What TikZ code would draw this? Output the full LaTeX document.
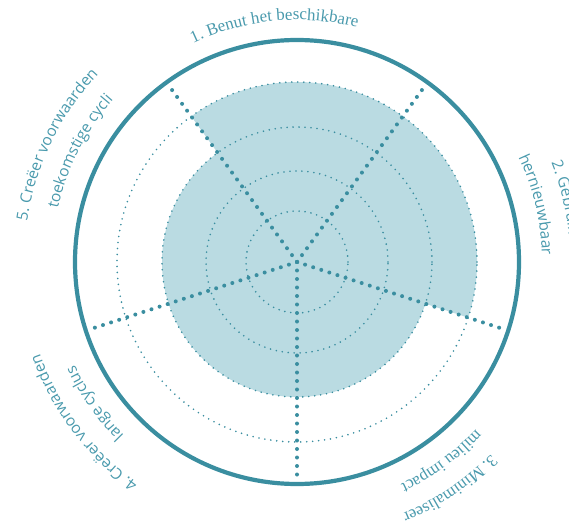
\documentclass[tikz,border=0pt]{standalone}
\usepackage{fontspec}
\newfontfamily\labsans{Open Sans}
\newfontfamily\labserif{Liberation Serif}
\usetikzlibrary{decorations.text}
\definecolor{ringcol}{RGB}{58,142,160}
\definecolor{shadecol}{RGB}{186,219,226}
\definecolor{labcol}{RGB}{74,154,173}
\begin{document}
\begin{tikzpicture}[x=1pt,y=1pt,
  spoke/.style={draw=ringcol, line width=4pt, line cap=round, dash pattern=on 0pt off 8.5pt},
  ringdots/.style={draw=ringcol, line width=1.8pt, line cap=round, dash pattern=on 0pt off 6pt},
  outerring/.style={draw=ringcol, line width=4.2pt},
  arclab/.style={decorate, decoration={text along path, text align=center, text color=labcol, text={#1}}},
]
\useasboundingbox (-297,-262) rectangle (272,262);
\clip (-297,-262) rectangle (272,262);
% shaded values
\fill[shadecol] (0,0) circle[radius=135];
\fill[shadecol] (0,0) -- (-18:180) arc[start angle=-18, end angle=126, radius=180] -- cycle;
% dotted rings
\foreach \r in {51,91,135,180} \draw[ringdots] (0,0) circle[radius=\r];
% spokes
\foreach \a in {126,54,-18,-90,198} \draw[spoke] (0,0) -- (\a:215);
% outer ring
\draw[outerring] (0,0) circle[radius=222];
% labels
\path[arclab={|\labserif\fontsize{17}{20}\selectfont|1. Benut het beschikbare}]
  (155.5:242) arc[start angle=155.5, end angle=35.5, radius=242];
\path[arclab={|\labsans\fontsize{15.5}{18}\selectfont|2. Gebruik}]
  (73.5:273) arc[start angle=73.5, end angle=-46.5, radius=273];
\path[arclab={|\labsans\fontsize{15.5}{18}\selectfont|hernieuwbaar}]
  (73.5:245) arc[start angle=73.5, end angle=-46.5, radius=245];
\path[arclab={|\labserif\fontsize{17}{20}\selectfont|3. Minimaliseer}]
  (4:273) arc[start angle=4, end angle=-116, radius=273];
\path[arclab={|\labserif\fontsize{17}{20}\selectfont|milieu impact}]
  (6:245) arc[start angle=6, end angle=-114, radius=245];
\path[arclab={|\labsans\fontsize{15.5}{18}\selectfont|4. Creëer voorwaarden}]
  (-83:273) arc[start angle=-83, end angle=-203, radius=273];
\path[arclab={|\labsans\fontsize{15.5}{18}\selectfont|lange cyclus}]
  (-85:245) arc[start angle=-85, end angle=-205, radius=245];
\path[arclab={|\labsans\fontsize{15.5}{18}\selectfont|5. Creëer voorwaarden}]
  (214:273) arc[start angle=214, end angle=94, radius=273];
\path[arclab={|\labsans\fontsize{15.5}{18}\selectfont|toekomstige cycli}]
  (213:245) arc[start angle=213, end angle=93, radius=245];
\end{tikzpicture}
\end{document}
